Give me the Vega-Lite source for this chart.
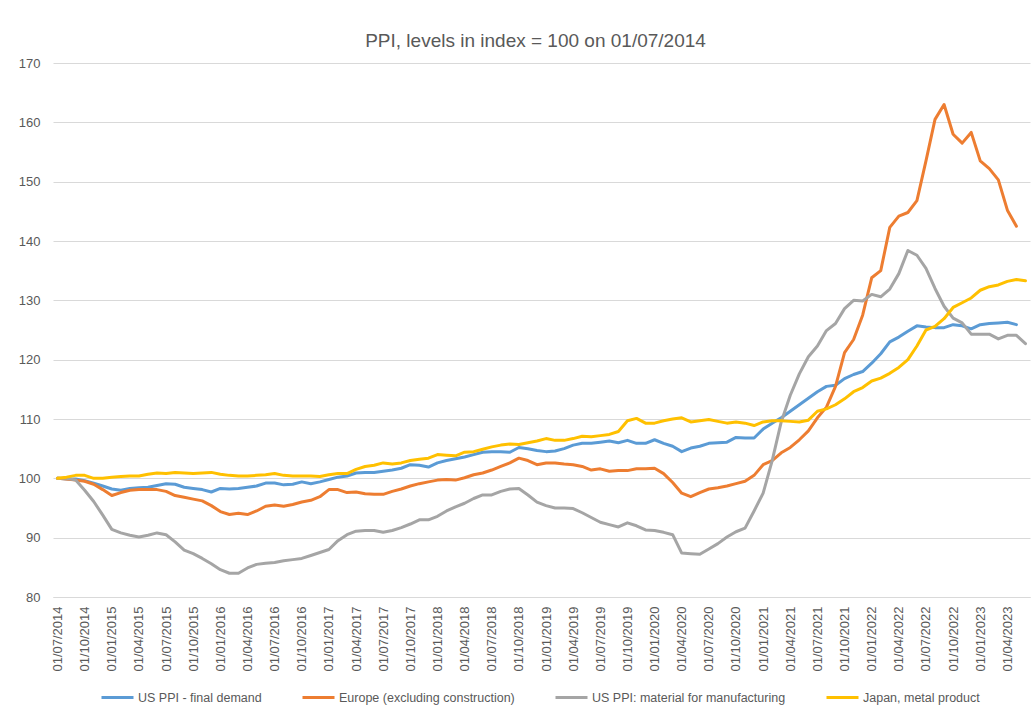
{
  "$schema": "https://vega.github.io/schema/vega-lite/v6.json",
  "width": 977,
  "height": 534,
  "autosize": {"type": "none"},
  "padding": {"left": 53, "top": 63, "right": 4, "bottom": 118},
  "background": "white",
  "title": {"text": "PPI, levels in index = 100 on 01/07/2014", "font": "Liberation Sans", "fontSize": 19, "fontWeight": "normal", "color": "#595959", "offset": 6, "frame": "group", "dx": -6},
  "data": {"values": [
    {"d":"01/07/2014","US":100,"EU":100,"MAT":100,"JP":100},
    {"d":"01/08/2014","US":99.9,"EU":99.9,"MAT":100,"JP":100.2},
    {"d":"01/09/2014","US":99.9,"EU":99.7,"MAT":99.7,"JP":100.5},
    {"d":"01/10/2014","US":99.6,"EU":99.5,"MAT":98.0,"JP":100.5},
    {"d":"01/11/2014","US":99.2,"EU":99.0,"MAT":96.1,"JP":100.0},
    {"d":"01/12/2014","US":98.7,"EU":98.1,"MAT":93.8,"JP":100.0},
    {"d":"01/01/2015","US":98.2,"EU":97.1,"MAT":91.4,"JP":100.2},
    {"d":"01/02/2015","US":98.0,"EU":97.6,"MAT":90.8,"JP":100.3},
    {"d":"01/03/2015","US":98.3,"EU":98.0,"MAT":90.4,"JP":100.4},
    {"d":"01/04/2015","US":98.4,"EU":98.1,"MAT":90.1,"JP":100.4},
    {"d":"01/05/2015","US":98.5,"EU":98.1,"MAT":90.4,"JP":100.7},
    {"d":"01/06/2015","US":98.8,"EU":98.1,"MAT":90.8,"JP":100.9},
    {"d":"01/07/2015","US":99.1,"EU":97.8,"MAT":90.5,"JP":100.8},
    {"d":"01/08/2015","US":99.0,"EU":97.1,"MAT":89.3,"JP":101.0},
    {"d":"01/09/2015","US":98.5,"EU":96.8,"MAT":87.9,"JP":100.9},
    {"d":"01/10/2015","US":98.3,"EU":96.5,"MAT":87.3,"JP":100.8},
    {"d":"01/11/2015","US":98.1,"EU":96.2,"MAT":86.5,"JP":100.9},
    {"d":"01/12/2015","US":97.7,"EU":95.4,"MAT":85.6,"JP":101.0},
    {"d":"01/01/2016","US":98.3,"EU":94.4,"MAT":84.6,"JP":100.7},
    {"d":"01/02/2016","US":98.2,"EU":93.9,"MAT":84.0,"JP":100.5},
    {"d":"01/03/2016","US":98.3,"EU":94.1,"MAT":84.0,"JP":100.4},
    {"d":"01/04/2016","US":98.5,"EU":93.9,"MAT":84.9,"JP":100.4},
    {"d":"01/05/2016","US":98.7,"EU":94.5,"MAT":85.5,"JP":100.5},
    {"d":"01/06/2016","US":99.2,"EU":95.3,"MAT":85.7,"JP":100.6},
    {"d":"01/07/2016","US":99.2,"EU":95.5,"MAT":85.8,"JP":100.8},
    {"d":"01/08/2016","US":98.9,"EU":95.3,"MAT":86.1,"JP":100.5},
    {"d":"01/09/2016","US":99.0,"EU":95.6,"MAT":86.3,"JP":100.4},
    {"d":"01/10/2016","US":99.4,"EU":96.0,"MAT":86.5,"JP":100.4},
    {"d":"01/11/2016","US":99.1,"EU":96.3,"MAT":87.0,"JP":100.4},
    {"d":"01/12/2016","US":99.4,"EU":96.9,"MAT":87.5,"JP":100.3},
    {"d":"01/01/2017","US":99.8,"EU":98.1,"MAT":88.0,"JP":100.6},
    {"d":"01/02/2017","US":100.2,"EU":98.1,"MAT":89.5,"JP":100.8},
    {"d":"01/03/2017","US":100.4,"EU":97.6,"MAT":90.5,"JP":100.8},
    {"d":"01/04/2017","US":100.9,"EU":97.7,"MAT":91.1,"JP":101.5},
    {"d":"01/05/2017","US":101.0,"EU":97.4,"MAT":91.2,"JP":102.0},
    {"d":"01/06/2017","US":101.0,"EU":97.3,"MAT":91.2,"JP":102.2},
    {"d":"01/07/2017","US":101.2,"EU":97.3,"MAT":90.9,"JP":102.6},
    {"d":"01/08/2017","US":101.4,"EU":97.8,"MAT":91.2,"JP":102.4},
    {"d":"01/09/2017","US":101.7,"EU":98.2,"MAT":91.7,"JP":102.6},
    {"d":"01/10/2017","US":102.3,"EU":98.7,"MAT":92.3,"JP":103.0},
    {"d":"01/11/2017","US":102.2,"EU":99.1,"MAT":93.0,"JP":103.2},
    {"d":"01/12/2017","US":101.9,"EU":99.4,"MAT":93.0,"JP":103.4},
    {"d":"01/01/2018","US":102.6,"EU":99.7,"MAT":93.6,"JP":104.0},
    {"d":"01/02/2018","US":103.0,"EU":99.8,"MAT":94.5,"JP":103.9},
    {"d":"01/03/2018","US":103.3,"EU":99.7,"MAT":95.2,"JP":103.8},
    {"d":"01/04/2018","US":103.6,"EU":100.1,"MAT":95.8,"JP":104.4},
    {"d":"01/05/2018","US":104.0,"EU":100.6,"MAT":96.6,"JP":104.5},
    {"d":"01/06/2018","US":104.4,"EU":100.9,"MAT":97.2,"JP":104.9},
    {"d":"01/07/2018","US":104.5,"EU":101.4,"MAT":97.2,"JP":105.3},
    {"d":"01/08/2018","US":104.5,"EU":102.0,"MAT":97.8,"JP":105.6},
    {"d":"01/09/2018","US":104.4,"EU":102.6,"MAT":98.2,"JP":105.8},
    {"d":"01/10/2018","US":105.2,"EU":103.4,"MAT":98.3,"JP":105.7},
    {"d":"01/11/2018","US":105.0,"EU":103.0,"MAT":97.2,"JP":106.0},
    {"d":"01/12/2018","US":104.7,"EU":102.3,"MAT":96.0,"JP":106.3},
    {"d":"01/01/2019","US":104.5,"EU":102.6,"MAT":95.4,"JP":106.7},
    {"d":"01/02/2019","US":104.6,"EU":102.6,"MAT":95.0,"JP":106.4},
    {"d":"01/03/2019","US":105.0,"EU":102.4,"MAT":95.0,"JP":106.4},
    {"d":"01/04/2019","US":105.6,"EU":102.3,"MAT":94.9,"JP":106.7},
    {"d":"01/05/2019","US":105.9,"EU":102.0,"MAT":94.2,"JP":107.1},
    {"d":"01/06/2019","US":105.9,"EU":101.4,"MAT":93.4,"JP":107.0},
    {"d":"01/07/2019","US":106.1,"EU":101.6,"MAT":92.6,"JP":107.2},
    {"d":"01/08/2019","US":106.3,"EU":101.2,"MAT":92.2,"JP":107.4},
    {"d":"01/09/2019","US":106.0,"EU":101.3,"MAT":91.8,"JP":107.9},
    {"d":"01/10/2019","US":106.4,"EU":101.3,"MAT":92.5,"JP":109.7},
    {"d":"01/11/2019","US":105.9,"EU":101.6,"MAT":92.0,"JP":110.1},
    {"d":"01/12/2019","US":105.9,"EU":101.6,"MAT":91.3,"JP":109.3},
    {"d":"01/01/2020","US":106.5,"EU":101.7,"MAT":91.2,"JP":109.3},
    {"d":"01/02/2020","US":105.9,"EU":100.8,"MAT":90.9,"JP":109.7},
    {"d":"01/03/2020","US":105.4,"EU":99.3,"MAT":90.5,"JP":110.0},
    {"d":"01/04/2020","US":104.5,"EU":97.5,"MAT":87.4,"JP":110.2},
    {"d":"01/05/2020","US":105.1,"EU":96.9,"MAT":87.3,"JP":109.5},
    {"d":"01/06/2020","US":105.4,"EU":97.6,"MAT":87.2,"JP":109.7},
    {"d":"01/07/2020","US":105.9,"EU":98.2,"MAT":88.1,"JP":109.9},
    {"d":"01/08/2020","US":106.0,"EU":98.4,"MAT":89.0,"JP":109.6},
    {"d":"01/09/2020","US":106.1,"EU":98.7,"MAT":90.1,"JP":109.3},
    {"d":"01/10/2020","US":106.9,"EU":99.1,"MAT":91.0,"JP":109.5},
    {"d":"01/11/2020","US":106.8,"EU":99.5,"MAT":91.6,"JP":109.3},
    {"d":"01/12/2020","US":106.8,"EU":100.5,"MAT":94.5,"JP":108.9},
    {"d":"01/01/2021","US":108.3,"EU":102.3,"MAT":97.5,"JP":109.5},
    {"d":"01/02/2021","US":109.3,"EU":103.0,"MAT":103.0,"JP":109.7},
    {"d":"01/03/2021","US":110.2,"EU":104.3,"MAT":109.5,"JP":109.7},
    {"d":"01/04/2021","US":111.3,"EU":105.2,"MAT":114.0,"JP":109.6},
    {"d":"01/05/2021","US":112.4,"EU":106.5,"MAT":117.6,"JP":109.5},
    {"d":"01/06/2021","US":113.5,"EU":108.0,"MAT":120.5,"JP":109.8},
    {"d":"01/07/2021","US":114.6,"EU":110.2,"MAT":122.3,"JP":111.3},
    {"d":"01/08/2021","US":115.5,"EU":112.0,"MAT":124.9,"JP":111.7},
    {"d":"01/09/2021","US":115.7,"EU":115.5,"MAT":126.1,"JP":112.4},
    {"d":"01/10/2021","US":116.8,"EU":121.2,"MAT":128.6,"JP":113.4},
    {"d":"01/11/2021","US":117.5,"EU":123.4,"MAT":130.0,"JP":114.6},
    {"d":"01/12/2021","US":118.0,"EU":127.5,"MAT":129.9,"JP":115.3},
    {"d":"01/01/2022","US":119.4,"EU":133.8,"MAT":131.0,"JP":116.4},
    {"d":"01/02/2022","US":121.0,"EU":135.0,"MAT":130.6,"JP":116.9},
    {"d":"01/03/2022","US":123.0,"EU":142.3,"MAT":131.9,"JP":117.7},
    {"d":"01/04/2022","US":123.8,"EU":144.2,"MAT":134.5,"JP":118.7},
    {"d":"01/05/2022","US":124.8,"EU":144.8,"MAT":138.4,"JP":120.0},
    {"d":"01/06/2022","US":125.7,"EU":146.8,"MAT":137.6,"JP":122.3},
    {"d":"01/07/2022","US":125.5,"EU":153.5,"MAT":135.4,"JP":125.0},
    {"d":"01/08/2022","US":125.4,"EU":160.5,"MAT":132.0,"JP":125.6},
    {"d":"01/09/2022","US":125.4,"EU":163.0,"MAT":129.0,"JP":126.9},
    {"d":"01/10/2022","US":125.9,"EU":158.0,"MAT":127.0,"JP":128.8},
    {"d":"01/11/2022","US":125.7,"EU":156.5,"MAT":126.2,"JP":129.6},
    {"d":"01/12/2022","US":125.2,"EU":158.3,"MAT":124.3,"JP":130.4},
    {"d":"01/01/2023","US":125.9,"EU":153.5,"MAT":124.3,"JP":131.7},
    {"d":"01/02/2023","US":126.1,"EU":152.2,"MAT":124.3,"JP":132.3},
    {"d":"01/03/2023","US":126.2,"EU":150.3,"MAT":123.5,"JP":132.6},
    {"d":"01/04/2023","US":126.3,"EU":145.2,"MAT":124.1,"JP":133.2},
    {"d":"01/05/2023","US":125.9,"EU":142.5,"MAT":124.1,"JP":133.5},
    {"d":"01/06/2023","US":null,"EU":null,"MAT":122.7,"JP":133.3}
  ]},
  "transform": [
    {"fold": ["US", "EU", "MAT", "JP"], "as": ["series", "value"]},
    {"filter": "isValid(datum.value)"}
  ],
  "mark": {"type": "line", "strokeWidth": 3, "strokeJoin": "round", "strokeCap": "round"},
  "encoding": {
    "x": {
      "field": "d", "type": "ordinal", "sort": null,
      "scale": {"type": "point", "padding": 0.5},
      "axis": {
        "title": null,
        "values": ["01/07/2014","01/10/2014","01/01/2015","01/04/2015","01/07/2015","01/10/2015","01/01/2016","01/04/2016","01/07/2016","01/10/2016","01/01/2017","01/04/2017","01/07/2017","01/10/2017","01/01/2018","01/04/2018","01/07/2018","01/10/2018","01/01/2019","01/04/2019","01/07/2019","01/10/2019","01/01/2020","01/04/2020","01/07/2020","01/10/2020","01/01/2021","01/04/2021","01/07/2021","01/10/2021","01/01/2022","01/04/2022","01/07/2022","01/10/2022","01/01/2023","01/04/2023"],
        "labelAngle": -90, "labelAlign": "right", "labelBaseline": "middle",
        "labelFont": "Liberation Sans", "labelFontSize": 13, "labelColor": "#595959",
        "labelPadding": 9, "ticks": false, "grid": false,
        "domainColor": "#d9d9d9", "domainWidth": 1
      }
    },
    "y": {
      "field": "value", "type": "quantitative",
      "scale": {"domain": [80, 170], "nice": false, "zero": false},
      "axis": {
        "title": null, "values": [80, 90, 100, 110, 120, 130, 140, 150, 160, 170],
        "labelFont": "Liberation Sans", "labelFontSize": 13, "labelColor": "#595959",
        "labelPadding": 13, "ticks": false, "domain": false,
        "grid": true, "gridColor": "#d9d9d9", "gridWidth": 1
      }
    },
    "color": {
      "field": "series", "type": "nominal",
      "scale": {"domain": ["US", "EU", "MAT", "JP"], "range": ["#5B9BD5", "#ED7D31", "#A5A5A5", "#FFC000"]},
      "legend": {
        "title": null, "orient": "none", "legendX": 47, "legendY": 617,
        "direction": "horizontal", "columns": 4,
        "symbolType": "stroke", "symbolSize": 1024, "symbolStrokeWidth": 3,
        "labelFont": "Liberation Sans", "labelFontSize": 12.5, "labelColor": "#595959",
        "labelOffset": 3, "columnPadding": 34, "labelLimit": 0,
        "labelExpr": "datum.label == 'US' ? 'US PPI - final demand' : datum.label == 'EU' ? 'Europe (excluding construction)' : datum.label == 'MAT' ? 'US PPI: material for manufacturing' : 'Japan, metal product'"
      }
    }
  },
  "config": {"view": {"stroke": null}}
}
